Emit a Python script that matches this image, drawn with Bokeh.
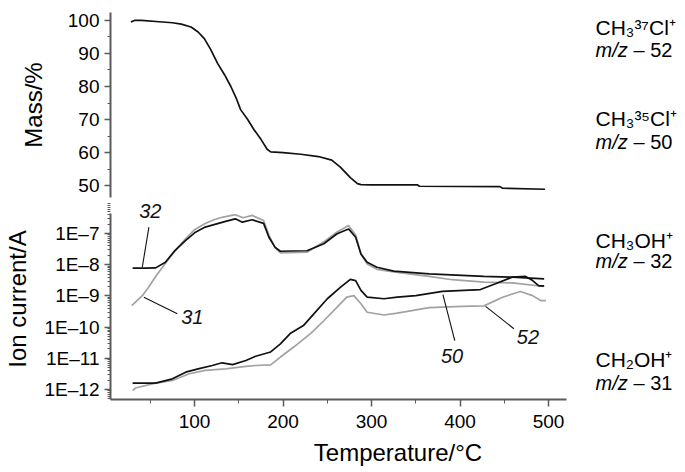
from bokeh.plotting import figure
from bokeh.layouts import column
from bokeh.models import FixedTicker, CustomJSTickFormatter, Label, Range1d
from bokeh.embed import file_html
from bokeh.resources import INLINE

# ---------------- data ----------------
# Thermogravimetric curve
temp_mass = [28, 32, 40, 60, 75, 85, 96, 104, 111, 118, 126, 134, 141, 147, 152, 160, 167, 175,
             182, 186, 200, 220, 240, 255, 265, 276, 284, 288, 300, 352, 354, 445, 448, 496]
mass = [99.5, 100, 100, 99.6, 99.3, 98.9, 98.0, 96.5, 94.5, 91.3, 87.0, 83.5, 80.0, 76.5, 73.0, 70.0, 67.0, 64.0,
        61.0, 60.2, 60.0, 59.5, 58.8, 57.7, 55.5, 52.4, 50.6, 50.3, 50.2, 50.2, 49.8, 49.7, 49.2, 48.9]

# m/z 32 (CH3OH+)
temp_32 = [30, 45, 56, 67, 78, 90, 101, 112, 124, 135, 146, 154, 165, 178, 184, 191, 197, 210, 227,
           246, 261, 274, 282, 288, 295, 306, 325, 365, 427, 459, 495]
ion_32 = [7.8e-9, 7.8e-9, 7.9e-9, 1.2e-8, 2.9e-8, 6.0e-8, 1.1e-7, 1.6e-7, 2.0e-7, 2.45e-7, 2.95e-7, 2.3e-7,
          2.75e-7, 2.1e-7, 7.6e-8, 3.6e-8, 2.7e-8, 2.75e-8, 2.8e-8, 4.7e-8, 9.8e-8, 1.4e-7, 7.6e-8, 2.2e-8,
          1.2e-8, 8.3e-9, 6.2e-9, 5.1e-9, 4.2e-9, 4.0e-9, 3.5e-9]

# m/z 31 (CH2OH+)
temp_31 = [29, 41, 48, 56, 65, 71, 80, 90, 100, 112, 122, 131, 146, 155, 165, 178, 184, 191, 197, 227,
           246, 261, 274, 282, 288, 295, 306, 327, 365, 391, 427, 459, 495]
ion_31 = [4.9e-10, 1.02e-9, 1.9e-9, 4.2e-9, 9.3e-9, 1.55e-8, 3.2e-8, 6.9e-8, 1.32e-7, 2.1e-7, 2.75e-7,
          3.3e-7, 4.0e-7, 3.2e-7, 3.8e-7, 2.6e-7, 8.9e-8, 3.5e-8, 2.4e-8, 2.5e-8, 5.4e-8, 1.12e-7, 1.8e-7,
          8.9e-8, 2.2e-8, 1.05e-8, 7.1e-9, 5.8e-9, 4.2e-9, 3.3e-9, 2.75e-9, 2.6e-9, 2.0e-9]

# m/z 50 (CH3 35Cl+)
temp_50 = [30, 56, 75, 90, 104, 120, 131, 143, 158, 169, 186, 197, 208, 223, 235, 250, 265, 276, 282,
           288, 295, 314, 329, 350, 380, 423, 440, 459, 474, 482, 489, 495]
ion_50 = [1.6e-12, 1.6e-12, 2.2e-12, 3.6e-12, 4.6e-12, 5.9e-12, 7.2e-12, 6.3e-12, 8.5e-12, 1.17e-11,
          1.6e-11, 2.9e-11, 6.2e-11, 1.12e-10, 2.7e-10, 8.1e-10, 1.9e-9, 3.4e-9, 3.1e-9, 1.5e-9, 9.1e-10,
          8.1e-10, 9.1e-10, 1.02e-9, 1.4e-9, 1.6e-9, 2.45e-9, 4.0e-9, 4.2e-9, 3.1e-9, 2.1e-9, 2.1e-9]

# m/z 52 (CH3 37Cl+)
temp_52 = [30, 33, 56, 75, 94, 112, 135, 158, 169, 186, 197, 212, 231, 246, 261, 272, 280, 288, 295,
           314, 329, 365, 402, 427, 448, 468, 482, 491, 497]
ion_52 = [9.3e-13, 1.12e-12, 1.6e-12, 1.95e-12, 3.2e-12, 4.1e-12, 4.6e-12, 5.5e-12, 5.9e-12, 6.2e-12,
          1.1e-11, 2.3e-11, 6.2e-11, 1.6e-10, 4.4e-10, 9.1e-10, 1.02e-9, 5.6e-10, 3.0e-10, 2.45e-10,
          2.8e-10, 4.2e-10, 4.6e-10, 4.8e-10, 9.1e-10, 1.38e-9, 1.02e-9, 7.1e-10, 7.1e-10]

temp_ticks = [100, 200, 300, 400, 500]
temp_minor = [50, 150, 250, 350, 450]
mass_ticks = [50, 60, 70, 80, 90, 100]
mass_minor = [55, 65, 75, 85, 95]
ion_ticks = [1e-12, 1e-11, 1e-10, 1e-9, 1e-8, 1e-7]

# ---------------- styling ----------------
FONT = "Liberation Sans"
AX = "#5a5a5a"
BLACK = "#111111"
GREY = "#a2a2a2"

x_range = Range1d(5, 654.7)
X_BOUNDS = (5, 520)


def style_axis(ax):
    ax.axis_line_color = AX
    ax.axis_line_width = 2
    ax.major_tick_line_color = AX
    ax.major_tick_line_width = 1.5
    ax.minor_tick_line_color = AX
    ax.minor_tick_line_width = 1
    ax.major_tick_in = 0
    ax.major_tick_out = 6
    ax.minor_tick_in = 0
    ax.minor_tick_out = 3
    ax.major_label_text_font = FONT
    ax.major_label_text_font_size = "19px"
    ax.major_label_text_color = "black"
    ax.major_label_standoff = 5
    ax.axis_label_text_font = FONT
    ax.axis_label_text_font_style = "normal"
    ax.axis_label_text_font_size = "24px"
    ax.axis_label_text_color = "black"
    ax.axis_label_standoff = 7


# ---------------- top panel: mass ----------------
top = figure(width=685, height=198, x_range=x_range, y_range=Range1d(46.4, 102.4),
             x_axis_location=None, output_backend="svg", toolbar_location=None,
             min_border_left=110, min_border_right=0, min_border_top=12, min_border_bottom=1)
top.grid.visible = False
top.outline_line_color = None
top.line(temp_mass, mass, line_color=BLACK, line_width=1.7)
style_axis(top.yaxis[0])
top.yaxis[0].ticker = FixedTicker(ticks=mass_ticks, minor_ticks=mass_minor)
top.yaxis[0].axis_label = "Mass/%"
top.yaxis[0].axis_label_standoff = 18

# ---------------- bottom panel: ion currents ----------------
bot = figure(width=685, height=274, x_range=x_range, y_range=Range1d(4.8e-13, 1.32e-6),
             y_axis_type="log", output_backend="svg", toolbar_location=None,
             min_border_left=110, min_border_right=0, min_border_top=0, min_border_bottom=73)
bot.grid.visible = False
bot.outline_line_color = None
bot.line(temp_31, ion_31, line_color=GREY, line_width=1.7)
bot.line(temp_32, ion_32, line_color=BLACK, line_width=1.7)
bot.line(temp_52, ion_52, line_color=GREY, line_width=1.7)
bot.line(temp_50, ion_50, line_color=BLACK, line_width=1.7)

for ax in (bot.xaxis[0], bot.yaxis[0]):
    style_axis(ax)
bot.xaxis[0].ticker = FixedTicker(ticks=temp_ticks, minor_ticks=temp_minor)
bot.xaxis[0].bounds = X_BOUNDS
bot.xaxis[0].major_tick_out = 7
bot.xaxis[0].minor_tick_out = 4
bot.xaxis[0].major_label_standoff = 8
bot.xaxis[0].axis_label = "Temperature/°C"
bot.xaxis[0].axis_label_standoff = 8
bot.yaxis[0].bounds = (4.8e-13, 4.38e-7)
bot.yaxis[0].ticker = FixedTicker(
    ticks=ion_ticks,
    minor_ticks=[m * 10.0 ** e for e in range(-13, -6) for m in range(2, 10)])
bot.yaxis[0].formatter = CustomJSTickFormatter(
    code="return '1E\u2013' + Math.round(-Math.log10(tick));")
bot.yaxis[0].axis_label = "Ion current/A"
bot.yaxis[0].axis_label_standoff = 11

# leader lines for the curve numbers
bot.segment(x0=[48.4, 42.7, 380.6, 428.8], y0=[1.6e-7, 9.1e-10, 1.1e-9, 4.6e-10],
            x1=[40.9, 80.5, 394.0, 460.8], y1=[8.3e-9, 2.7e-10, 3.7e-11, 8.9e-11],
            line_color=BLACK, line_width=1.1)

for (tx, ty, tt) in [(50, 5.3e-7, "32"), (97.5, 2.1e-10, "31"), (391, 1.23e-11, "50"), (476.6, 4.8e-11, "52")]:
    bot.add_layout(Label(x=tx, y=ty, text=tt, text_font=FONT, text_font_size="20px",
                         text_font_style="italic", text_align="center", text_baseline="middle",
                         text_color=BLACK))

# right-hand species labels
RX = 553


def species(p, y1, y2, formula, num):
    p.add_layout(Label(x=RX, y=y1, text=formula, text_font=FONT, text_font_size="21px",
                       text_align="left", text_baseline="middle", text_color="black"))
    p.add_layout(Label(x=RX, y=y2, text="m/z", text_font=FONT, text_font_size="20px",
                       text_font_style="italic", text_align="left", text_baseline="middle",
                       text_color="black"))
    p.add_layout(Label(x=RX, y=y2, x_offset=38, text="\u2013 " + num, text_font=FONT,
                       text_font_size="20px", text_align="left", text_baseline="middle",
                       text_color="black"))


species(top, 97.9, 90.9, "CH\u2083\u00b3\u2077Cl\u207a", "52")
species(top, 70.3, 63.3, "CH\u2083\u00b3\u2075Cl\u207a", "50")
species(bot, 6.0e-8, 1.36e-8, "CH\u2083OH\u207a", "32")
species(bot, 9.1e-12, 1.66e-12, "CH\u2082OH\u207a", "31")

layout = column(top, bot, spacing=0)
open("out.html", "w").write(file_html(layout, INLINE))
